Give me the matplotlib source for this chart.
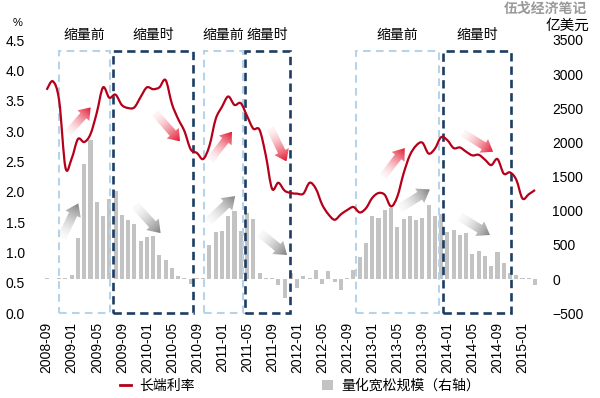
import numpy as np
import pandas as pd
import matplotlib
matplotlib.use('Agg')
import matplotlib.pyplot as plt
from matplotlib.patches import Polygon, Rectangle, Patch, PathPatch
from matplotlib.path import Path
from matplotlib.lines import Line2D

plt.rcParams['font.family'] = ['Liberation Sans', 'Noto Sans CJK SC']
plt.rcParams['lines.scale_dashes'] = False

# 月度数据 2008-09 ~ 2015-03
months = pd.date_range('2008-09-01', '2015-03-01', freq='MS')
tick_labels = [m.strftime('%Y-%m') for m in months[::4]]

# 长端利率 (%)
rate = [3.68, 3.82, 3.50, 2.40, 2.55, 2.87, 2.82, 2.95, 3.30, 3.72,
        3.55, 3.60, 3.43, 3.38, 3.39, 3.56, 3.72, 3.69, 3.72, 3.84,
        3.45, 3.20, 3.00, 2.70, 2.64, 2.54, 2.76, 3.20, 3.40, 3.57,
        3.43, 3.46, 3.25, 3.04, 3.02, 2.60, 2.05, 2.15, 2.02, 1.98,
        1.97, 1.97, 2.15, 2.05, 1.79, 1.63, 1.54, 1.63, 1.70, 1.75,
        1.66, 1.73, 1.90, 1.98, 1.95, 1.76, 1.92, 2.30, 2.60, 2.76,
        2.81, 2.63, 2.71, 2.90, 2.85, 2.72, 2.73, 2.66, 2.60, 2.61,
        2.53, 2.44, 2.54, 2.30, 2.32, 2.20, 1.89, 1.96, 2.03]

# 量化宽松规模 (亿美元, 右轴)
qe = [10, 5, 10, 10, 65, 600, 1680, 2040, 1127, 920,
      1177, 1290, 935, 872, 800, 553, 612, 627, 357, 273,
      162, 50, 10, -73, 20, 10, 505, 685, 710, 920,
      990, 700, 965, 887, 88, 20, 10, -83, -280, 88,
      -132, 45, 10, 137, -69, 122, -47, -160, 10, 137,
      323, 530, 920, 890, 1007, 1045, 760, 880, 925, 860,
      890, 1080, 918, 960, 690, 725, 651, 670, 367, 416,
      338, 196, 401, 235, 97, 59, 10, 10, -93]

# 缩量前 / 缩量时 区间 (月序号)
pre_spans = [(1.96, 10.1), (25.2, 31.3), (49.4, 62.7)]
during_spans = [(10.6, 23.3), (31.7, 38.8), (63.3, 74.1)]

# 箭头 (起点, 终点), 左轴坐标
red_arrows = [((3.4, 2.97), (7.03, 3.39)), ((17.3, 3.30), (21.3, 2.83)),
              ((26.1, 2.52), (29.6, 2.99)), ((35.7, 3.05), (38.3, 2.50)),
              ((53.7, 2.25), (57.2, 2.72)), ((66.5, 2.97), (71.3, 2.66))]
grey_arrows = [((2.4, 1.24), (5.05, 1.81)), ((14.1, 1.78), (18.2, 1.32)),
               ((25.8, 1.51), (30.1, 1.93)), ((34.1, 1.32), (38.4, 0.96)),
               ((56.4, 1.73), (61.2, 2.04)), ((66.0, 1.59), (70.8, 1.29))]

RED = '#b5001a'
GREY_BAR = '#c3c3c3'
LIGHT = '#b6d3ea'
NAVY = '#1d3e64'

fig = plt.figure(figsize=(6, 3.98), dpi=100)
ax = fig.add_axes([40.4 / 600, 84.7 / 398, 500.9 / 600, 273.3 / 398])
ax2 = ax.twinx()
ax.set_zorder(ax2.get_zorder() + 1)
ax.patch.set_visible(False)

x = np.arange(len(months))
ax2.bar(x, qe, width=0.65, color=GREY_BAR)


# 平滑折线 (类似 Excel 平滑线)
def smooth_path(xs, ys):
    P = np.column_stack([xs, ys]).astype(float)
    n = len(P)
    verts = [P[0]]
    codes = [Path.MOVETO]
    for i in range(n - 1):
        p_prev = P[i - 1] if i > 0 else P[i]
        p_next2 = P[i + 2] if i + 2 < n else P[i + 1]
        c1 = P[i] + (P[i + 1] - p_prev) / 6
        c2 = P[i + 1] - (p_next2 - P[i]) / 6
        verts += [c1, c2, P[i + 1]]
        codes += [Path.CURVE4] * 3
    return Path(verts, codes)


ax.add_patch(PathPatch(smooth_path(x, rate), facecolor='none', edgecolor=RED,
                       lw=1.6, zorder=6, joinstyle='round'))

ax.set_xlim(-1, 79)
ax.set_ylim(0, 4.5)

for s in ['top', 'bottom', 'left', 'right']:
    ax.spines[s].set_visible(False)
    ax2.spines[s].set_visible(False)

ax.set_yticks(np.arange(0, 4.51, 0.5))
ax.set_yticklabels([f'{v:.1f}' for v in np.arange(0, 4.51, 0.5)])
ax.tick_params(axis='y', length=0, pad=11, labelsize=10)
ax2.set_yticks(range(-500, 3501, 500))
ax2.tick_params(axis='y', length=0, pad=8, labelsize=10)
ax.set_xticks(x[::4])
ax.set_xticklabels(tick_labels, rotation=90)
ax.tick_params(axis='x', length=0, pad=6, labelsize=10)

# 虚线框
for a, b in pre_spans:
    ax.add_patch(Rectangle((a, 0), b - a, 4.32, fill=False, edgecolor=LIGHT,
                           lw=1.5, linestyle=(0, (5.5, 3.8)), zorder=3, clip_on=False))
for a, b in during_spans:
    ax.add_patch(Rectangle((a, 0), b - a, 4.32, fill=False, edgecolor=NAVY,
                           lw=1.9, linestyle=(0, (6.0, 3.6)), zorder=3, clip_on=False))
for a, b in pre_spans:
    ax.text((a + b) / 2, 4.585, '缩量前', ha='center', va='center', fontsize=10,
            fontweight='medium', clip_on=False)
for a, b in during_spans:
    ax.text((a + b) / 2, 4.585, '缩量时', ha='center', va='center', fontsize=10,
            fontweight='medium', clip_on=False)


def grad_arrow(ax, p0, p1, rgb, shaft=8, head=16, head_len=11):
    tr = ax.transData
    a = tr.transform(p0)
    b = tr.transform(p1)
    d = b - a
    L = np.hypot(*d)
    u = d / L
    n = np.array([-u[1], u[0]])
    base = b - u * head_len
    pts = [a + n * shaft / 2, base + n * shaft / 2, base + n * head / 2, b,
           base - n * head / 2, base - n * shaft / 2, a - n * shaft / 2]
    pd_ = tr.inverted().transform(pts)
    poly = Polygon(pd_, closed=True, facecolor='none', edgecolor='none')
    ax.add_patch(poly)
    x0, x1 = pd_[:, 0].min(), pd_[:, 0].max()
    y0, y1 = pd_[:, 1].min(), pd_[:, 1].max()
    gx, gy = np.meshgrid(np.linspace(x0, x1, 80), np.linspace(y0, y1, 80))
    disp = tr.transform(np.column_stack([gx.ravel(), gy.ravel()]))
    t = np.clip(((disp - a) @ u) / L, 0, 1).reshape(80, 80)
    img = np.zeros((80, 80, 4))
    img[..., :3] = rgb
    img[..., 3] = 0.04 + 0.96 * t ** 1.6
    im = ax.imshow(img, extent=(x0, x1, y0, y1), origin='lower', aspect='auto',
                   interpolation='bilinear', zorder=5)
    im.set_clip_path(poly)


for p0, p1 in red_arrows:
    grad_arrow(ax, p0, p1, matplotlib.colors.to_rgb('#e3102a'))
for p0, p1 in grey_arrows:
    grad_arrow(ax, p0, p1, matplotlib.colors.to_rgb('#7f7f7f'), shaft=9, head=17, head_len=12)

ax.set_xlim(-1, 79)
ax.set_ylim(0, 4.5)

fig.text(18 / 600, 1 - 23 / 398, '%', ha='center', va='center', fontsize=8)
fig.text(567 / 600, 1 - 26 / 398, '亿美元', ha='center', va='center', fontsize=10.5)
fig.text(587 / 600, 1 - 9 / 398, '伍戈经济笔记', ha='right', va='center', fontsize=10,
         color='#9a9a9a', fontweight='bold')

handles = [Line2D([], [], color=RED, lw=2), Patch(facecolor=GREY_BAR, edgecolor='none')]
fig.legend(handles, ['长端利率', '量化宽松规模（右轴）'], loc='center',
           bbox_to_anchor=(0.5, 0.03), ncol=2, frameon=False, fontsize=10,
           handlelength=0.8, handletextpad=0.6, columnspacing=9.2)

fig.savefig('out.png', dpi=100)
